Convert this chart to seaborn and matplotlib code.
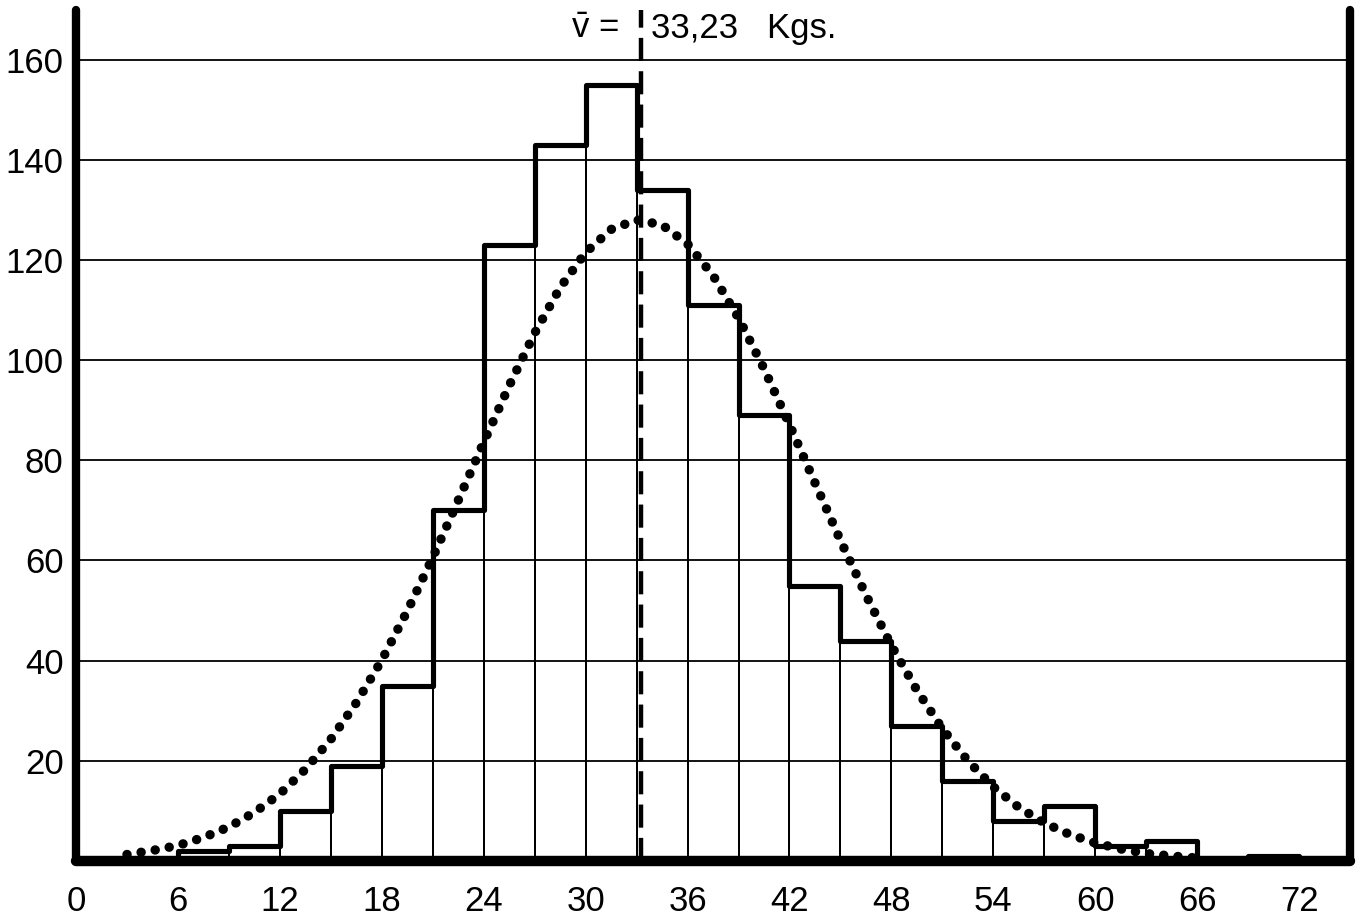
import matplotlib
matplotlib.use("Agg")
import matplotlib.pyplot as plt
import seaborn as sns
import pandas as pd

# Class intervals (kg), 3 kg wide, and the frequency in each class
class_lower = [0, 3, 6, 9, 12, 15, 18, 21, 24, 27, 30, 33, 36,
               39, 42, 45, 48, 51, 54, 57, 60, 63, 66, 69, 72]
class_width = 3
frequency = [0, 0, 2, 3, 10, 19, 35, 70, 123, 143, 155, 134, 111,
             89, 55, 44, 27, 16, 8, 11, 3, 4, 0, 1, 0]

# Fitted normal curve, read at 1.5 kg steps
curve_x = [3.0, 4.5, 6.0, 7.5, 9.0, 10.5, 12.0, 13.5, 15.0, 16.5, 18.0,
           19.5, 21.0, 22.5, 24.0, 25.5, 27.0, 28.5, 30.0, 31.5, 33.0,
           34.5, 36.0, 37.5, 39.0, 40.5, 42.0, 43.5, 45.0, 46.5, 48.0,
           49.5, 51.0, 52.5, 54.0, 55.5, 57.0, 58.5, 60.0, 61.5, 63.0,
           64.5, 66.0]
curve_y = [1.3, 2.1, 3.1, 4.7, 6.8, 9.7, 13.4, 18.3, 24.3, 31.6, 40.1,
           49.9, 60.6, 72.0, 83.6, 94.9, 105.4, 114.5, 121.5, 126.1, 128.0,
           127.0, 123.2, 116.9, 108.4, 98.3, 87.1, 75.5, 64.0, 53.1, 43.0,
           34.1, 26.4, 20.0, 14.8, 10.7, 7.6, 5.3, 3.6, 2.4, 1.5,
           1.0, 0.6]

mean_value = 33.23
mean_label_left = r"$\bar{\mathrm{v}}$ ="
mean_label_right = "33,23   Kgs."

x_ticks = [0, 6, 12, 18, 24, 30, 36, 42, 48, 54, 60, 66, 72]
y_ticks = [20, 40, 60, 80, 100, 120, 140, 160]

sns.set_theme(style="white")
plt.rcParams["font.family"] = ["Liberation Sans", "DejaVu Sans"]
plt.rcParams["mathtext.fontset"] = "custom"
plt.rcParams["mathtext.rm"] = "Liberation Sans"
plt.rcParams["mathtext.it"] = "Liberation Sans:italic"
plt.rcParams["mathtext.bf"] = "Liberation Sans:bold"

df = pd.DataFrame({
    "mid": [lo + class_width / 2 for lo in class_lower],
    "freq": frequency,
})
edges = class_lower + [class_lower[-1] + class_width]

fig = plt.figure(figsize=(13.6, 9.19), dpi=100)
ax = fig.add_axes([0.0559, 0.0631, 0.9368, 0.926])

# horizontal rules
for yv in y_ticks:
    ax.axhline(yv, color="black", lw=1.3, zorder=1)

# thin class boundaries
sns.histplot(data=df, x="mid", weights="freq", bins=edges, element="bars",
             fill=False, color="black", edgecolor="black", linewidth=1.4,
             ax=ax, zorder=2)
# heavy stepped outline
sns.histplot(data=df, x="mid", weights="freq", bins=edges, element="step",
             fill=False, color="black", linewidth=3.7, ax=ax, zorder=3)

# dotted normal curve
sns.lineplot(x=curve_x, y=curve_y, color="black", lw=6.8,
             linestyle=(0, (0.01, 1.5)), dash_capstyle="round",
             ax=ax, zorder=4)

# mean line
ax.axvline(mean_value, color="black", lw=3.2, dashes=(5.2, 2.3), zorder=5)
ax.text(mean_value - 1.3, 166.3, mean_label_left, ha="right", va="center",
        fontsize=25, color="black")
ax.text(mean_value + 0.6, 166.3, mean_label_right, ha="left", va="center",
        fontsize=25, color="black")

ax.set_xlim(0, 75)
ax.set_ylim(0, 169.9)
ax.set_xticks(x_ticks)
ax.set_xticklabels([str(t) for t in x_ticks])
ax.set_yticks(y_ticks)
ax.set_yticklabels([str(t) for t in y_ticks])
ax.tick_params(axis="both", length=0, labelsize=25, colors="black")
ax.tick_params(axis="x", pad=17)
ax.tick_params(axis="y", pad=9)
ax.set_xlabel("")
ax.set_ylabel("")

ax.spines["top"].set_visible(False)
for side, w in (("left", 6), ("right", 6), ("bottom", 7.5)):
    sp = ax.spines[side]
    sp.set_visible(True)
    sp.set_color("black")
    sp.set_linewidth(w)
    sp.set_capstyle("round")
    sp.set_zorder(6)

fig.savefig("out.png", dpi=100, facecolor="white")
